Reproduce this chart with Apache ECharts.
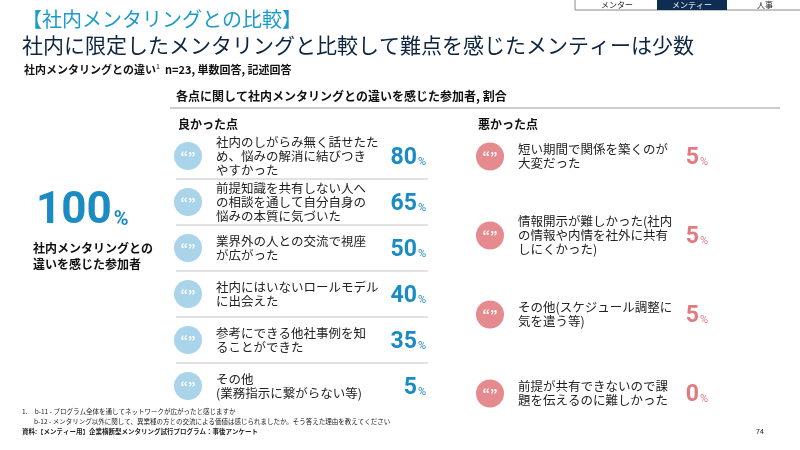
<!DOCTYPE html>
<html><head><meta charset="utf-8">
<script src="https://cdn.jsdelivr.net/npm/echarts@6/dist/echarts.min.js"></script>
<style>html,body{margin:0;padding:0;background:#fff}#c{width:800px;height:450px}</style>
</head><body><div id="c"></div>
<script>
var goodLabels = [
  '社内のしがらみ無く話せたた\nめ、悩みの解消に結びつき\nやすかった',
  '前提知識を共有しない人へ\nの相談を通して自分自身の\n悩みの本質に気づいた',
  '業界外の人との交流で視座\nが広がった',
  '社内にはいないロールモデル\nに出会えた',
  '参考にできる他社事例を知\nることができた',
  'その他\n(業務指示に繋がらない等)'
];
var goodValues = [80, 65, 50, 40, 35, 5];
var badLabels = [
  '短い期間で関係を築くのが\n大変だった',
  '情報開示が難しかった(社内\nの情報や内情を社外に共有\nしにくかった)',
  'その他(スケジュール調整に\n気を遣う等)',
  '前提が共有できないので課\n題を伝えるのに難しかった'
];
var badValues = [5, 5, 5, 0];
var totalValue = 100;

var FONT = '"Noto Sans CJK JP", sans-serif';
var BLUE = '#1b8bc4', RED = '#e17b80';

function rowRenderer(labels, values, circleColor, numColor, numX, sep) {
  return function (params, api) {
    var i = api.value(0);
    var p = api.coord([0, i]);
    var cs = params.coordSys;
    var x0 = cs.x, y = p[1];
    var rowH = api.size([0, 1])[1];
    var kids = [
      {type: 'circle', shape: {cx: x0 + 12, cy: y, r: 14}, style: {fill: circleColor}},
      {type: 'text', style: {x: x0 + 12, y: y + 1, text: '“”', fill: '#fff', font: 'bold 13px ' + FONT, align: 'center', verticalAlign: 'middle'}},
      {type: 'text', style: {x: x0 + 40, y: y, text: labels[i], fill: '#222', font: '12.5px ' + FONT, lineHeight: 14, verticalAlign: 'middle'}},
      {type: 'text', style: {x: x0 + numX, y: y + 2, text: '{n|' + values[i] + '}{p|%}', fill: numColor, verticalAlign: 'middle', align: 'right',
        rich: {n: {font: 'bold 23px Roboto, sans-serif', fill: numColor}, p: {font: '11px Roboto, sans-serif', fill: numColor, padding: [8, 0, 0, 1]}}}}
    ];
    if (sep && i < labels.length - 1) {
      kids.push({type: 'line', shape: {x1: x0, y1: y + rowH / 2, x2: x0 + 252, y2: y + rowH / 2}, style: {stroke: '#d9d9d9', lineWidth: 1.5}});
    }
    return {type: 'group', children: kids};
  };
}

function idx(arr) { return arr.map(function (_, i) { return [i]; }); }

var chart = echarts.init(document.getElementById('c'));
chart.setOption({
  animation: false,
  grid: [
    {left: 176, top: 133, width: 260, height: 276},
    {left: 478, top: 117, width: 260, height: 316}
  ],
  xAxis: [
    {gridIndex: 0, type: 'value', show: false, min: 0, max: 1},
    {gridIndex: 1, type: 'value', show: false, min: 0, max: 1}
  ],
  yAxis: [
    {gridIndex: 0, type: 'category', inverse: true, show: false, data: goodLabels.map(function (_, i) { return i; })},
    {gridIndex: 1, type: 'category', inverse: true, show: false, data: badLabels.map(function (_, i) { return i; })}
  ],
  series: [
    {type: 'custom', xAxisIndex: 0, yAxisIndex: 0, encode: {y: 0}, data: idx(goodLabels),
      renderItem: rowRenderer(goodLabels, goodValues, '#a9d4ea', BLUE, 250, true)},
    {type: 'custom', xAxisIndex: 1, yAxisIndex: 1, encode: {y: 0}, data: idx(badLabels),
      renderItem: rowRenderer(badLabels, badValues, '#e58a8f', RED, 230, false)}
  ],
  graphic: [
    {type: 'line', shape: {x1: 575, y1: 10, x2: 800, y2: 10}, style: {stroke: '#888', lineWidth: 1}},
    {type: 'line', shape: {x1: 575, y1: 0, x2: 575, y2: 10}, style: {stroke: '#888', lineWidth: 1}},
    {type: 'rect', shape: {x: 657, y: 0, width: 70, height: 10}, style: {fill: '#0d2d52'}},
    {type: 'text', style: {x: 617, y: 5, text: 'メンター', font: '8px ' + FONT, fill: '#222', align: 'center', verticalAlign: 'middle'}},
    {type: 'text', style: {x: 692, y: 5, text: 'メンティー', font: '8px ' + FONT, fill: '#fff', align: 'center', verticalAlign: 'middle'}},
    {type: 'text', style: {x: 765, y: 5, text: '人事', font: '8px ' + FONT, fill: '#222', align: 'center', verticalAlign: 'middle'}},
    {type: 'text', style: {x: 22, y: 9, text: '【社内メンタリングとの比較】', font: '20px ' + FONT, fill: '#1a9bc9'}},
    {type: 'text', style: {x: 22, y: 35, text: '社内に限定したメンタリングと比較して難点を感じたメンティーは少数', font: '21px ' + FONT, fill: '#0d2540'}},
    {type: 'text', style: {x: 24, y: 63, text: '社内メンタリングとの違い{s|1}  n=23, 単数回答, 記述回答', font: 'bold 11px ' + FONT, fill: '#111',
      rich: {s: {font: '7px ' + FONT, padding: [0, 0, 6, 0], fill: '#111'}}}},
    {type: 'text', style: {x: 176, y: 90, text: '各点に関して社内メンタリングとの違いを感じた参加者, 割合', font: 'bold 12px ' + FONT, fill: '#111'}},
    {type: 'line', shape: {x1: 170, y1: 108, x2: 780, y2: 108}, style: {stroke: '#bbb', lineWidth: 1.5}},
    {type: 'text', style: {x: 178, y: 118, text: '良かった点', font: 'bold 12px ' + FONT, fill: '#111'}},
    {type: 'text', style: {x: 478, y: 118, text: '悪かった点', font: 'bold 12px ' + FONT, fill: '#111'}},
    {type: 'text', style: {x: 36, y: 212, text: '{n|' + totalValue + '}{p|%}', verticalAlign: 'middle',
      rich: {n: {font: 'bold 44px Roboto, sans-serif', fill: BLUE}, p: {font: 'bold 20px Roboto, sans-serif', fill: BLUE, padding: [16, 0, 0, 2]}}}},
    {type: 'text', style: {x: 33, y: 240, text: '社内メンタリングとの\n違いを感じた参加者', font: 'bold 12px ' + FONT, fill: '#111', lineHeight: 16}},
    {type: 'text', style: {x: 22, y: 408, text: '1.     b-11 - プログラム全体を通してネットワークが広がったと感じますか', font: '6.5px ' + FONT, fill: '#222'}},
    {type: 'text', style: {x: 34, y: 418, text: 'b-12 - メンタリング以外に関して、異業種の方との交流による価値は感じられましたか。そう答えた理由を教えてください', font: '6.5px ' + FONT, fill: '#222'}},
    {type: 'text', style: {x: 22, y: 428, text: '資料:【メンティー用】企業横断型メンタリング試行プログラム：事後アンケート', font: 'bold 6.5px ' + FONT, fill: '#222'}},
    {type: 'text', style: {x: 756, y: 428, text: '74', font: '7px ' + FONT, fill: '#222'}}
  ]
});
</script></body></html>
